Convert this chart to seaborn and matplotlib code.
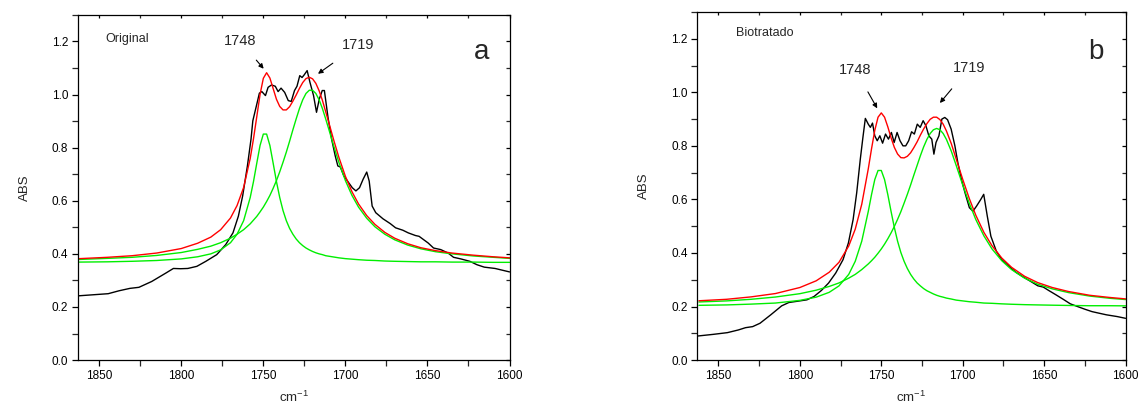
import numpy as np
import pandas as pd
import matplotlib
matplotlib.use("Agg")
import matplotlib.pyplot as plt
import seaborn as sns
from matplotlib.ticker import MultipleLocator

# ---------------- data ----------------
# common wavenumber grid for the fitted curves (cm-1)
fit_x = [1862, 1845, 1830, 1815, 1800, 1790, 1782, 1776, 1770, 1766, 1762, 1758, 1756,
         1754, 1752, 1750, 1748, 1746, 1744, 1742, 1740, 1738, 1736, 1734, 1732, 1730,
         1728, 1726, 1724, 1722, 1720, 1718, 1716, 1714, 1712, 1710, 1707, 1704, 1700,
         1696, 1692, 1687, 1682, 1676, 1670, 1662, 1654, 1645, 1635, 1622, 1610, 1600]

# panel a (Original)
a_band1748 = [0.369, 0.370, 0.372, 0.375, 0.381, 0.389, 0.400, 0.415, 0.442, 0.474, 0.525, 0.612, 0.672,
              0.741, 0.808, 0.851, 0.851, 0.808, 0.741, 0.672, 0.612, 0.563, 0.525, 0.496, 0.474, 0.456,
              0.442, 0.431, 0.422, 0.415, 0.409, 0.404, 0.400, 0.397, 0.393, 0.391, 0.388, 0.385, 0.382,
              0.380, 0.378, 0.376, 0.375, 0.373, 0.372, 0.371, 0.370, 0.370, 0.369, 0.369, 0.368, 0.368]
a_band1719 = [0.379, 0.383, 0.387, 0.394, 0.405, 0.417, 0.429, 0.442, 0.459, 0.474, 0.491, 0.513, 0.527,
              0.541, 0.558, 0.576, 0.597, 0.620, 0.647, 0.676, 0.709, 0.745, 0.783, 0.824, 0.867, 0.908,
              0.947, 0.980, 1.004, 1.016, 1.016, 1.004, 0.980, 0.947, 0.908, 0.867, 0.804, 0.745, 0.676,
              0.620, 0.576, 0.534, 0.502, 0.474, 0.453, 0.433, 0.419, 0.408, 0.400, 0.392, 0.387, 0.383]
a_fit = [0.382, 0.387, 0.393, 0.403, 0.420, 0.440, 0.463, 0.491, 0.535, 0.582, 0.650, 0.759, 0.833,
         0.916, 1.000, 1.061, 1.082, 1.062, 1.022, 0.982, 0.955, 0.942, 0.942, 0.954, 0.975, 0.998,
         1.023, 1.045, 1.060, 1.065, 1.059, 1.042, 1.014, 0.978, 0.935, 0.892, 0.826, 0.764, 0.692,
         0.634, 0.588, 0.544, 0.511, 0.481, 0.459, 0.438, 0.423, 0.412, 0.403, 0.395, 0.389, 0.385]

a_meas_x = [1862.6, 1844.5, 1837.9, 1831.3, 1825.8, 1818.0, 1809.3, 1804.8, 1800.4, 1796.0, 1790.5,
            1785.0, 1778.4, 1772.9, 1768.5, 1765.2, 1762.6, 1759.7, 1757.5, 1756.4, 1754.2, 1752.4,
            1750.9, 1748.7, 1747.1, 1745.0, 1742.7, 1741.0, 1739.2, 1737.0, 1734.8, 1733.0, 1731.0,
            1729.5, 1727.8, 1726.4, 1725.1, 1723.3, 1721.6, 1719.4, 1717.6, 1715.9, 1714.1, 1712.8,
            1710.6, 1708.4, 1706.2, 1704.6, 1703.1, 1700.9, 1698.0, 1695.8, 1693.6, 1691.4, 1689.2,
            1687.0, 1685.5, 1683.7, 1681.5, 1677.1, 1672.7, 1669.4, 1665.0, 1661.7, 1657.3, 1655.1,
            1652.9, 1649.6, 1646.3, 1641.9, 1637.4, 1634.1, 1629.7, 1624.2, 1619.8, 1615.4, 1608.8, 1600.0]
a_meas_y = [0.242, 0.250, 0.261, 0.270, 0.274, 0.296, 0.328, 0.345, 0.344, 0.345, 0.353,
            0.372, 0.397, 0.435, 0.479, 0.542, 0.618, 0.731, 0.832, 0.901, 0.958, 1.005,
            1.011, 0.996, 1.027, 1.036, 1.031, 1.011, 1.024, 1.008, 0.977, 0.974, 1.015,
            1.031, 1.071, 1.064, 1.074, 1.090, 1.046, 0.996, 0.933, 0.983, 1.015, 1.015,
            0.914, 0.832, 0.769, 0.731, 0.727, 0.693, 0.668, 0.649, 0.637, 0.649, 0.681,
            0.708, 0.674, 0.580, 0.555, 0.532, 0.514, 0.498, 0.489, 0.479, 0.469, 0.466,
            0.456, 0.441, 0.422, 0.416, 0.403, 0.387, 0.381, 0.372, 0.359, 0.350, 0.345, 0.332]

# panel b (Biotratado)
b_band1748 = [0.2045, 0.206, 0.209, 0.213, 0.223, 0.235, 0.253, 0.277, 0.320, 0.369, 0.444, 0.555, 0.618,
              0.674, 0.708, 0.708, 0.674, 0.618, 0.555, 0.4955, 0.444, 0.402, 0.369, 0.342, 0.320, 0.3025,
              0.288, 0.277, 0.267, 0.259, 0.253, 0.247, 0.242, 0.238, 0.235, 0.2315, 0.228, 0.224, 0.221,
              0.218, 0.216, 0.213, 0.212, 0.210, 0.2085, 0.207, 0.206, 0.205, 0.204, 0.203, 0.203, 0.2025]
b_band1719 = [0.217, 0.221, 0.227, 0.2355, 0.248, 0.261, 0.275, 0.288, 0.306, 0.320, 0.338, 0.359, 0.371,
              0.384, 0.399, 0.415, 0.433, 0.453, 0.475, 0.499, 0.5255, 0.554, 0.586, 0.619, 0.654, 0.691,
              0.727, 0.763, 0.796, 0.824, 0.846, 0.860, 0.865, 0.860, 0.846, 0.824, 0.780, 0.727, 0.654,
              0.586, 0.5255, 0.464, 0.415, 0.371, 0.338, 0.306, 0.2835, 0.266, 0.252, 0.239, 0.231, 0.226]
b_fit = [0.2215, 0.227, 0.236, 0.2485, 0.271, 0.296, 0.328, 0.365, 0.426, 0.489, 0.582, 0.714, 0.789,
         0.858, 0.907, 0.923, 0.907, 0.871, 0.830, 0.7945, 0.7695, 0.756, 0.755, 0.761, 0.774, 0.7935,
         0.815, 0.840, 0.863, 0.883, 0.899, 0.907, 0.907, 0.898, 0.881, 0.8555, 0.808, 0.751, 0.675,
         0.604, 0.5415, 0.477, 0.427, 0.381, 0.3465, 0.313, 0.2895, 0.271, 0.256, 0.242, 0.234, 0.2285]

b_meas_x = [1862.6, 1853.3, 1844.5, 1837.8, 1833.4, 1829.0, 1824.5, 1817.9, 1811.2, 1806.8, 1802.3,
            1795.7, 1791.3, 1786.8, 1782.4, 1778.0, 1773.5, 1770.2, 1767.3, 1765.1, 1762.9, 1761.3,
            1759.8, 1758.0, 1756.7, 1755.4, 1754.0, 1752.5, 1750.9, 1749.2, 1747.4, 1745.6, 1743.8,
            1742.1, 1740.3, 1738.5, 1736.7, 1735.0, 1733.2, 1731.4, 1729.7, 1727.9, 1726.1, 1724.3,
            1722.6, 1720.8, 1719.0, 1717.7, 1716.4, 1714.6, 1712.8, 1711.0, 1709.3, 1707.1, 1704.8,
            1703.0, 1700.8, 1698.6, 1695.9, 1693.7, 1691.5, 1688.9, 1687.1, 1684.9, 1682.7, 1679.3,
            1676.0, 1671.6, 1667.2, 1662.7, 1658.3, 1653.9, 1650.5, 1647.2, 1642.8, 1638.4, 1633.9,
            1629.5, 1625.0, 1620.6, 1616.2, 1611.7, 1605.1, 1600.0]
b_meas_y = [0.090, 0.096, 0.1025, 0.1125, 0.121, 0.125, 0.1375, 0.169, 0.2025, 0.215, 0.219,
            0.225, 0.2375, 0.260, 0.2875, 0.325, 0.375, 0.4375, 0.525, 0.625, 0.750, 0.831,
            0.9025, 0.881, 0.869, 0.885, 0.8375, 0.819, 0.8375, 0.810, 0.844, 0.825, 0.850,
            0.8125, 0.850, 0.819, 0.800, 0.800, 0.819, 0.8525, 0.844, 0.881, 0.869, 0.894,
            0.875, 0.8375, 0.825, 0.769, 0.8125, 0.8375, 0.900, 0.906, 0.8975, 0.8625, 0.800,
            0.7375, 0.675, 0.625, 0.569, 0.556, 0.575, 0.600, 0.619, 0.5375, 0.4625, 0.406,
            0.375, 0.350, 0.3275, 0.310, 0.294, 0.2775, 0.2725, 0.260, 0.244, 0.2275, 0.210,
            0.200, 0.190, 0.181, 0.175, 0.169, 0.1625, 0.156]

panel_titles = ["Original", "Biotratado"]
panel_letters = ["a", "b"]
peak_labels = ["1748", "1719"]
xlabel = "cm$^{-1}$"
ylabel = "ABS"

# ---------------- style ----------------
sns.set_style("ticks")
plt.rcParams["font.family"] = ["Liberation Sans", "DejaVu Sans"]
plt.rcParams["mathtext.fontset"] = "custom"
plt.rcParams["mathtext.rm"] = "Liberation Sans"
plt.rcParams["mathtext.it"] = "Liberation Sans:italic"

fig = plt.figure(figsize=(11.45, 4.12), dpi=100)
ax_a = fig.add_axes([0.068, 0.126, 0.377, 0.838])
ax_b = fig.add_axes([0.609, 0.126, 0.374, 0.845])

panels = [
    (ax_a, a_meas_x, a_meas_y, a_band1748, a_band1719, a_fit),
    (ax_b, b_meas_x, b_meas_y, b_band1748, b_band1719, b_fit),
]

GREEN = "#00ee00"
RED = "#ff0000"

for ax, mx, my, g1, g2, fit in panels:
    fdf = pd.DataFrame({"x": fit_x, "g1": g1, "g2": g2, "fit": fit})
    mdf = pd.DataFrame({"x": mx, "y": my})
    sns.lineplot(data=mdf, x="x", y="y", ax=ax, color="black", lw=1.0, estimator=None, sort=False)
    sns.lineplot(data=fdf, x="x", y="g1", ax=ax, color=GREEN, lw=1.0, estimator=None, sort=False)
    sns.lineplot(data=fdf, x="x", y="g2", ax=ax, color=GREEN, lw=1.0, estimator=None, sort=False)
    sns.lineplot(data=fdf, x="x", y="fit", ax=ax, color=RED, lw=1.0, estimator=None, sort=False)
    ax.set_xlim(1863, 1600)
    ax.set_ylim(0, 1.3)
    ax.xaxis.set_major_locator(MultipleLocator(50))
    ax.xaxis.set_minor_locator(MultipleLocator(25))
    ax.yaxis.set_major_locator(MultipleLocator(0.2))
    ax.yaxis.set_minor_locator(MultipleLocator(0.1))
    ax.yaxis.set_major_formatter(matplotlib.ticker.FormatStrFormatter("%.1f"))
    ax.tick_params(axis="both", which="major", direction="out", length=4, width=0.9,
                   labelsize=8.5, pad=3, colors="black")
    ax.tick_params(axis="both", which="minor", direction="out", length=4, width=0.9)
    ax.tick_params(axis="y", which="both", right=True, labelright=False)
    ax.tick_params(axis="x", which="both", top=True, labeltop=False)
    for sp in ax.spines.values():
        sp.set_visible(True)
        sp.set_linewidth(0.9)
        sp.set_color("black")
    ax.set_xlabel(xlabel, fontsize=9.5, labelpad=6)
    ax.set_ylabel(ylabel, fontsize=9.5, labelpad=15)

# right/top ticks point inward
for ax in (ax_a, ax_b):
    for t in ax.yaxis.get_major_ticks() + ax.yaxis.get_minor_ticks():
        t.tick2line.set_marker(matplotlib.lines.TICKLEFT)
        t.tick2line.set_markersize(3)
    for t in ax.xaxis.get_major_ticks() + ax.xaxis.get_minor_ticks():
        t.tick2line.set_marker(matplotlib.lines.TICKDOWN)
        t.tick2line.set_markersize(2)

# annotations panel a
ax_a.text(1846, 1.21, panel_titles[0], fontsize=9, va="center", ha="left")
ax_a.text(1617, 1.16, panel_letters[0], fontsize=20, va="center", ha="center")
ax_a.annotate(peak_labels[0], xy=(1749.8, 1.097), xytext=(1764, 1.20), fontsize=10.5,
              ha="center", va="center",
              arrowprops=dict(arrowstyle="-|>", color="black", lw=0.8, mutation_scale=7,
                              shrinkA=8, shrinkB=0))
ax_a.annotate(peak_labels[1], xy=(1716.7, 1.078), xytext=(1692, 1.187), fontsize=10.5,
              ha="center", va="center",
              arrowprops=dict(arrowstyle="-|>", color="black", lw=0.8, mutation_scale=7,
                              shrinkA=10, shrinkB=0))

# annotations panel b
ax_b.text(1839, 1.22, panel_titles[1], fontsize=9, va="center", ha="left")
ax_b.text(1618, 1.15, panel_letters[1], fontsize=20, va="center", ha="center")
ax_b.annotate(peak_labels[0], xy=(1752.5, 0.94), xytext=(1766, 1.085), fontsize=10.5,
              ha="center", va="center",
              arrowprops=dict(arrowstyle="-|>", color="black", lw=0.8, mutation_scale=7,
                              shrinkA=10, shrinkB=0))
ax_b.annotate(peak_labels[1], xy=(1714, 0.96), xytext=(1696, 1.091), fontsize=10.5,
              ha="center", va="center",
              arrowprops=dict(arrowstyle="-|>", color="black", lw=0.8, mutation_scale=7,
                              shrinkA=10, shrinkB=0))

fig.savefig("out.png", dpi=100)
